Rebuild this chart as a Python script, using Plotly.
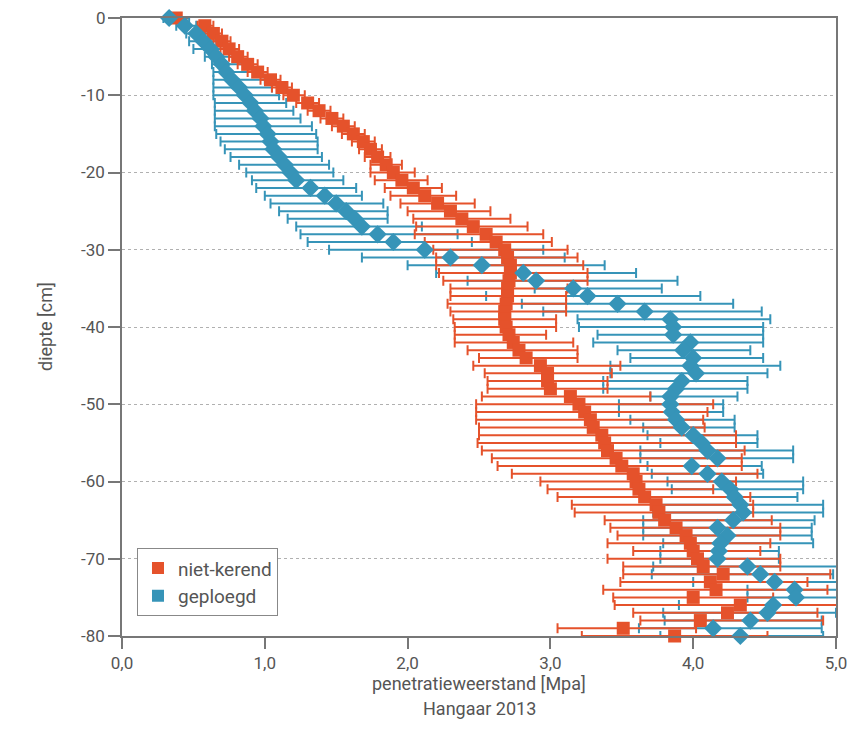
import plotly.graph_objects as go

# depth below surface [cm]
depth = [-d for d in range(0, 81)]

# niet-kerend (red squares): mean, left cap, right cap  [MPa]
red_mean = [0.38, 0.58, 0.64, 0.70, 0.75, 0.81, 0.88, 0.95, 1.04, 1.12,
            1.20, 1.30, 1.38, 1.47, 1.55, 1.62, 1.69, 1.74, 1.79, 1.85,
            1.90, 1.96, 2.04, 2.12, 2.21, 2.30, 2.38, 2.46, 2.55, 2.62,
            2.68, 2.70, 2.72, 2.72, 2.71, 2.70, 2.70, 2.69, 2.68, 2.68,
            2.69, 2.71, 2.74, 2.78, 2.83, 2.93, 2.98, 2.98, 3.00, 3.14,
            3.20, 3.24, 3.28, 3.30, 3.36, 3.38, 3.40, 3.46, 3.50, 3.58,
            3.60, 3.62, 3.66, 3.74, 3.76, 3.80, 3.88, 3.95, 3.98, 4.00,
            4.03, 4.07, 4.21, 4.12, 4.16, 4.00, 4.33, 4.24, 4.05, 3.51,
            3.87]
red_lo = [0.32, 0.53, 0.58, 0.64, 0.69, 0.75, 0.81, 0.88, 0.97, 1.05,
          1.13, 1.22, 1.30, 1.39, 1.47, 1.54, 1.61, 1.66, 1.70, 1.74,
          1.74, 1.77, 1.84, 1.88, 1.95, 2.00, 2.04, 2.06, 2.05, 2.12,
          2.18, 2.20, 2.20, 2.22, 2.25, 2.30, 2.30, 2.28, 2.30, 2.32,
          2.33, 2.33, 2.33, 2.42, 2.50, 2.46, 2.54, 2.56, 2.56, 2.52,
          2.48, 2.48, 2.48, 2.50, 2.50, 2.49, 2.52, 2.59, 2.63, 2.73,
          2.93, 2.98, 3.05, 3.15, 3.17, 3.38, 3.42, 3.47, 3.40, 3.58,
          3.40, 3.51, 3.51, 3.49, 3.37, 3.44, 3.45, 3.58, 3.63, 3.05,
          3.22]
red_hi = [0.45, 0.64, 0.70, 0.76, 0.82, 0.88, 0.95, 1.02, 1.11, 1.19,
          1.28, 1.38, 1.46, 1.55, 1.63, 1.70, 1.77, 1.82, 1.88, 1.96,
          2.05, 2.14, 2.24, 2.34, 2.47, 2.58, 2.72, 2.84, 2.95, 3.01,
          3.12, 3.19, 3.23, 3.26, 3.26, 3.12, 3.11, 3.11, 3.11, 3.04,
          3.04, 2.97, 3.16, 3.19, 3.19, 3.49, 3.43, 3.40, 3.40, 3.70,
          4.14, 4.10, 4.07, 4.08, 4.30, 4.30, 4.36, 4.34, 4.34, 4.45,
          4.30, 4.14, 4.40, 4.42, 4.42, 4.55, 4.61, 4.61, 4.54, 4.47,
          4.61, 4.61, 4.96, 4.80, 4.94, 4.56, 5.20, 4.87, 4.91, 4.02,
          4.52]

# geploegd (blue diamonds): mean, left cap, right cap  [MPa]
blue_mean = [0.33, 0.44, 0.52, 0.57, 0.62, 0.66, 0.70, 0.73, 0.77, 0.82,
             0.86, 0.90, 0.93, 0.97, 0.99, 1.02, 1.04, 1.06, 1.10, 1.14,
             1.18, 1.22, 1.32, 1.42, 1.50, 1.57, 1.63, 1.68, 1.79, 1.90,
             2.12, 2.30, 2.52, 2.81, 2.90, 3.16, 3.26, 3.47, 3.66, 3.84,
             3.86, 3.86, 3.98, 3.93, 4.00, 3.98, 4.02, 3.92, 3.88, 3.84,
             3.84, 3.85, 3.88, 3.92, 4.00, 4.06, 4.10, 4.17, 3.99, 4.10,
             4.20, 4.26, 4.29, 4.33, 4.35, 4.28, 4.17, 4.24, 4.19, 4.18,
             4.17, 4.38, 4.47, 4.57, 4.71, 4.72, 4.56, 4.52, 4.40, 4.14,
             4.33]
blue_lo = [0.29, 0.38, 0.45, 0.47, 0.50, 0.58, 0.63, 0.64, 0.64, 0.64,
           0.64, 0.65, 0.65, 0.65, 0.65, 0.66, 0.69, 0.72, 0.76, 0.82,
           0.87, 0.91, 0.94, 1.00, 1.04, 1.10, 1.16, 1.22, 1.25, 1.30,
           1.45, 1.68, 2.00, 2.20, 2.42, 2.89, 2.55, 2.80, 2.95, 3.19,
           3.20, 3.33, 3.30, 3.47, 3.56, 3.42, 3.42, 3.37, 3.37, 3.70,
           3.48, 3.48, 3.56, 3.65, 3.68, 3.77, 3.63, 3.63, 3.68, 3.71,
           3.82, 3.85, 3.68, 3.72, 3.72, 3.65, 3.65, 3.65, 3.79, 3.77,
           3.77, 3.72, 3.71, 4.00, 4.38, 4.38, 3.90, 3.79, 3.80, 3.62,
           3.77]
blue_hi = [0.47, 0.52, 0.60, 0.66, 0.72, 0.80, 0.88, 0.95, 1.00, 1.05,
           1.10, 1.15, 1.20, 1.25, 1.33, 1.36, 1.37, 1.37, 1.40, 1.45,
           1.48, 1.55, 1.64, 1.68, 1.83, 1.86, 1.86, 2.10, 2.35, 2.45,
           2.95, 3.10, 3.38, 3.60, 3.89, 3.78, 4.05, 4.28, 4.48, 4.54,
           4.49, 4.49, 4.49, 4.40, 4.49, 4.61, 4.52, 4.38, 4.38, 4.31,
           4.21, 4.21, 4.29, 4.29, 4.45, 4.45, 4.70, 4.70, 4.48, 4.49,
           4.77, 4.77, 4.73, 4.91, 4.91, 4.85, 4.83, 4.83, 4.84, 4.60,
           4.60, 5.05, 4.98, 5.15, 5.18, 5.10, 5.20, 5.00, 4.90, 4.90,
           4.91]

x_tickvals = [0, 1, 2, 3, 4, 5]
x_ticktext = ["0,0", "1,0", "2,0", "3,0", "4,0", "5,0"]
y_tickvals = [0, -10, -20, -30, -40, -50, -60, -70, -80]
y_ticktext = ["", "-10", "-20", "-30", "-40", "-50", "-60", "-70", "-80"]

RED = "#E5522B"
BLUE = "#3694B8"
FONT = "Roboto, 'Noto Sans', sans-serif"
GREY = "#555555"


def err(mean, lo, hi):
    plus = [h - m for m, h in zip(mean, hi)]
    minus = [m - l for m, l in zip(mean, lo)]
    return plus, minus


rp, rm = err(red_mean, red_lo, red_hi)
bp, bm = err(blue_mean, blue_lo, blue_hi)

fig = go.Figure()

# blue error bars (underneath)
fig.add_trace(go.Scatter(
    x=blue_mean, y=depth, mode="markers", showlegend=False, cliponaxis=False,
    marker=dict(size=1, color="rgba(0,0,0,0)"),
    error_x=dict(type="data", symmetric=False, array=bp, arrayminus=bm,
                 color=BLUE, thickness=2, width=5),
    hoverinfo="skip"))

# red series with its bars
fig.add_trace(go.Scatter(
    x=red_mean, y=depth, mode="markers", showlegend=False, cliponaxis=False,
    marker=dict(symbol="square", size=13, color=RED),
    error_x=dict(type="data", symmetric=False, array=rp, arrayminus=rm,
                 color=RED, thickness=2, width=5),
    name="niet-kerend"))

# blue markers on top
fig.add_trace(go.Scatter(
    x=blue_mean, y=depth, mode="markers", showlegend=False, cliponaxis=False,
    marker=dict(symbol="diamond", size=14, color=BLUE),
    name="geploegd"))

# legend entries
fig.add_trace(go.Scatter(x=[None], y=[None], mode="markers", name="niet-kerend",
                         marker=dict(symbol="square", size=16, color=RED)))
fig.add_trace(go.Scatter(x=[None], y=[None], mode="markers", name="geploegd",
                         marker=dict(symbol="square", size=16, color=BLUE)))

fig.update_layout(
    width=852, height=739,
    margin=dict(l=114, r=24, t=10, b=111),
    paper_bgcolor="white", plot_bgcolor="white",
    font=dict(family=FONT, size=17, color=GREY),
    legend=dict(x=0.021, y=0.142, xanchor="left", yanchor="top",
                bordercolor="#888888", borderwidth=1, bgcolor="white",
                font=dict(size=19, color=GREY), itemsizing="constant",
                tracegroupgap=6, itemwidth=30),
    xaxis=dict(range=[0, 5.0], tickvals=x_tickvals, ticktext=x_ticktext,
               showgrid=False, zeroline=False, showline=True, mirror=True,
               linecolor="#777777", linewidth=1.5, ticks="outside",
               ticklen=11, tickcolor="#777777", tickwidth=1.5,
               automargin=False),
    yaxis=dict(range=[-80, 0], tickvals=y_tickvals, ticktext=y_ticktext,
               showgrid=True, gridcolor="#b0b0b0", griddash="dot", gridwidth=1,
               zeroline=False, showline=True, mirror=True,
               linecolor="#777777", linewidth=1.5, ticks="outside",
               ticklen=12, tickcolor="#777777", tickwidth=1.5,
               automargin=False),
    annotations=[
        dict(text="0", xref="paper", yref="y", x=0, y=0, xshift=-14,
             xanchor="right", yanchor="middle", showarrow=False,
             font=dict(size=17, color=GREY)),
        dict(text="penetratieweerstand [Mpa]", xref="paper", yref="paper",
             x=0.5, y=0, yshift=-47, xanchor="center", yanchor="middle",
             showarrow=False, font=dict(size=18, color=GREY)),
        dict(text="Hangaar 2013", xref="paper", yref="paper",
             x=0.5, y=0, yshift=-72, xanchor="center", yanchor="middle",
             showarrow=False, font=dict(size=18, color=GREY)),
        dict(text="diepte [cm]", xref="paper", yref="paper",
             x=0, y=0.5, xshift=-77, xanchor="center", yanchor="middle",
             textangle=-90, showarrow=False, font=dict(size=18, color=GREY)),
    ],
)

fig.write_html("out.html")
